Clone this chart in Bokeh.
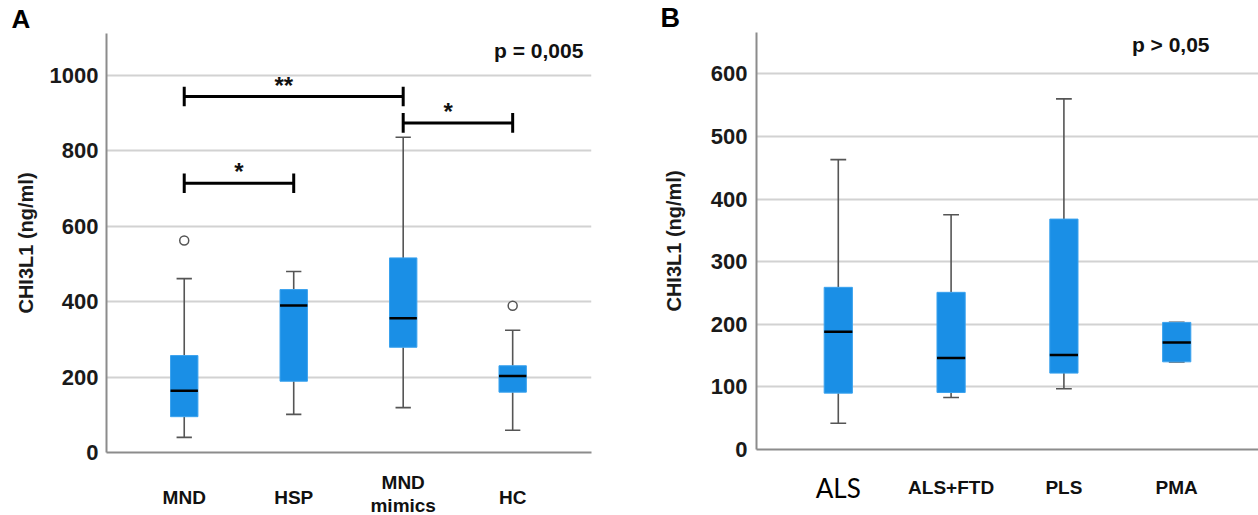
from bokeh.plotting import figure
from bokeh.layouts import row, column
from bokeh.models import Label, FixedTicker, Range1d
from bokeh.core.properties import value
from bokeh.embed import file_html
from bokeh.resources import INLINE

# ---------------- data ----------------
groups_a = ["MND", "HSP", "MND\nmimics", "HC"]
lo_a = [40, 101, 119, 59]
q1_a = [95, 189, 279, 160]
med_a = [164, 390, 356, 203]
q3_a = [257, 432, 516, 230]
hi_a = [461, 480, 836, 324]
out_a_pos = [1, 4]
out_a_val = [562, 389]
ticks_a = [0, 200, 400, 600, 800, 1000]

sig_from = [1, 1, 3]
sig_to = [2, 3, 4]
sig_y = [714, 944, 874]
sig_txt = ["*", "**", "*"]
sig_star_x = [1.5, 1.91, 3.41]

groups_b = ["ALS", "ALS+FTD", "PLS", "PMA"]
lo_b = [42, 83, 97, 140]
q1_b = [90, 91, 122, 140]
med_b = [188, 146, 151, 171]
q3_b = [259, 251, 368, 203]
hi_b = [463, 375, 560, 203]
ticks_b = [0, 100, 200, 300, 400, 500, 600]

p_text_a = "p = 0,005"
p_text_b = "p > 0,05"

FONT = "Liberation Sans"
BOX = "#1a8fe6"
WHISK = "#555555"
GRID = "#d2d2d2"
AXIS = "#8c8c8c"
BW = 0.25
CAP = 0.14


def make_panel(width, height, xr, yr, ticks, ml, mr, mt, lab_standoff, title_standoff,
               letter, letter_offset, letter_size):
    p = figure(width=width, height=height, output_backend="svg", toolbar_location=None,
               x_range=xr, y_range=Range1d(*yr),
               min_border_left=ml, min_border_right=mr, min_border_top=mt,
               min_border_bottom=14)
    p.title.text = letter
    p.title.align = "left"
    p.title.offset = letter_offset
    p.title.standoff = 0
    p.title.text_font = FONT
    p.title.text_font_style = "bold"
    p.title.text_font_size = letter_size
    p.title.text_color = "#000000"
    p.outline_line_color = None
    p.xgrid.grid_line_color = None
    p.ygrid.grid_line_color = GRID
    p.ygrid.grid_line_width = 2
    p.ygrid.ticker = FixedTicker(ticks=ticks)
    p.yaxis.ticker = FixedTicker(ticks=ticks)
    p.yaxis.axis_line_color = AXIS
    p.yaxis.axis_line_width = 2
    p.yaxis.major_tick_line_color = None
    p.yaxis.minor_tick_line_color = None
    p.yaxis.major_label_text_font = FONT
    p.yaxis.major_label_text_font_style = "bold"
    p.yaxis.major_label_text_font_size = "22px"
    p.yaxis.major_label_text_color = "#1a1a1a"
    p.yaxis.major_label_standoff = lab_standoff
    p.yaxis.axis_label = "CHI3L1 (ng/ml)"
    p.yaxis.axis_label_text_font = FONT
    p.yaxis.axis_label_text_font_style = "bold"
    p.yaxis.axis_label_text_font_size = "20px"
    p.yaxis.axis_label_text_color = "#1a1a1a"
    p.yaxis.axis_label_standoff = title_standoff
    p.xaxis.ticker = FixedTicker(ticks=[])
    p.xaxis.axis_line_color = AXIS
    p.xaxis.axis_line_width = 2
    p.xaxis.major_tick_line_color = None
    p.xaxis.minor_tick_line_color = None
    p.xaxis.major_label_standoff = 0
    p.xaxis.major_label_text_font_size = "0px"
    return p


def strip(width, height, xr, yr, ml=0, mr=0):
    s = figure(width=width, height=height, output_backend="svg", toolbar_location=None,
               x_range=xr, y_range=yr, min_border_left=ml, min_border_right=mr,
               min_border_top=0, min_border_bottom=0)
    s.outline_line_color = None
    s.axis.visible = False
    s.grid.visible = False
    return s


def draw_boxes(p, lo, q1, med, q3, hi):
    xs = list(range(1, len(lo) + 1))
    p.segment(x0=xs, y0=q3, x1=xs, y1=hi, line_color=WHISK, line_width=1.6)
    p.segment(x0=xs, y0=lo, x1=xs, y1=q1, line_color=WHISK, line_width=1.6)
    p.segment(x0=[x - CAP / 2 for x in xs], y0=hi, x1=[x + CAP / 2 for x in xs], y1=hi,
              line_color=WHISK, line_width=1.6)
    p.segment(x0=[x - CAP / 2 for x in xs], y0=lo, x1=[x + CAP / 2 for x in xs], y1=lo,
              line_color=WHISK, line_width=1.6)
    p.vbar(x=xs, width=BW, bottom=q1, top=q3, fill_color=BOX, line_color="#3aa2ee",
           line_width=1)
    p.segment(x0=[x - BW / 2 for x in xs], y0=med, x1=[x + BW / 2 for x in xs], y1=med,
              line_color="black", line_width=2.5)


def add_label(p, x, y, text, size, align="center", baseline="middle"):
    p.add_layout(Label(x=x, y=y, text=text, text_font=FONT, text_font_style="bold",
                       text_font_size=size, text_align=align, text_baseline=baseline,
                       text_color="#111111"))


def add_text(s, xs, ys, texts, size, font=FONT, style="bold", align="center",
             color="#111111"):
    s.text(x=xs, y=ys, text=texts, text_font=value(font), text_font_style=style,
           text_font_size=size, text_align=align, text_baseline="middle",
           text_color=color)


# ---------------- panel A ----------------
xr_a = Range1d(0.29, 4.72)
pa = make_panel(640, 466, xr_a, (0, 1111), ticks_a, 106, 49, 33, 2, 10,
                "A", -95, "26px")
draw_boxes(pa, lo_a, q1_a, med_a, q3_a, hi_a)
pa.scatter(x=out_a_pos, y=out_a_val, size=9, fill_color="white", line_color="#555555",
           line_width=1.5)
for a, b, y in zip(sig_from, sig_to, sig_y):
    pa.segment(x0=[a], y0=[y], x1=[b], y1=[y], line_color="black", line_width=3)
    pa.segment(x0=[a, b], y0=[y - 26, y - 26], x1=[a, b], y1=[y + 26, y + 26],
               line_color="black", line_width=3)
for sx, y, t in zip(sig_star_x, sig_y, sig_txt):
    add_label(pa, sx, y + 30, t, "24px", baseline="alphabetic")
add_label(pa, 4.646, 1066, p_text_a, "21px", align="right")

bot_a = strip(640, 49, xr_a, Range1d(49, 0), ml=106, mr=49)
for i, g in enumerate(groups_a):
    lines = g.split("\n")
    if len(lines) == 1:
        add_text(bot_a, [i + 1], [31], [lines[0]], "19px")
    else:
        add_text(bot_a, [i + 1, i + 1], [16, 39], lines, "19px")

# ---------------- panel B ----------------
xr_b = Range1d(0.275, 4.725)
pb = make_panel(618, 463, xr_b, (0, 666), ticks_b, 116, 0, 32, 3, 23,
                "B", -96, "27px")
draw_boxes(pb, lo_b, q1_b, med_b, q3_b, hi_b)
add_label(pb, 4.291, 647, p_text_b, "21px", align="right")

bot_b = strip(618, 52, xr_b, Range1d(52, 0), ml=116, mr=0)
for i, g in enumerate(groups_b):
    if g == "ALS":
        add_text(bot_b, [i + 1], [24], [g], "26px", font="Lato", style="normal",
                 color="#000000")
    else:
        add_text(bot_b, [i + 1], [24], [g], "19px")

layout = row(column(pa, bot_a), column(pb, bot_b))
open("out.html", "w").write(file_html(layout, INLINE))
